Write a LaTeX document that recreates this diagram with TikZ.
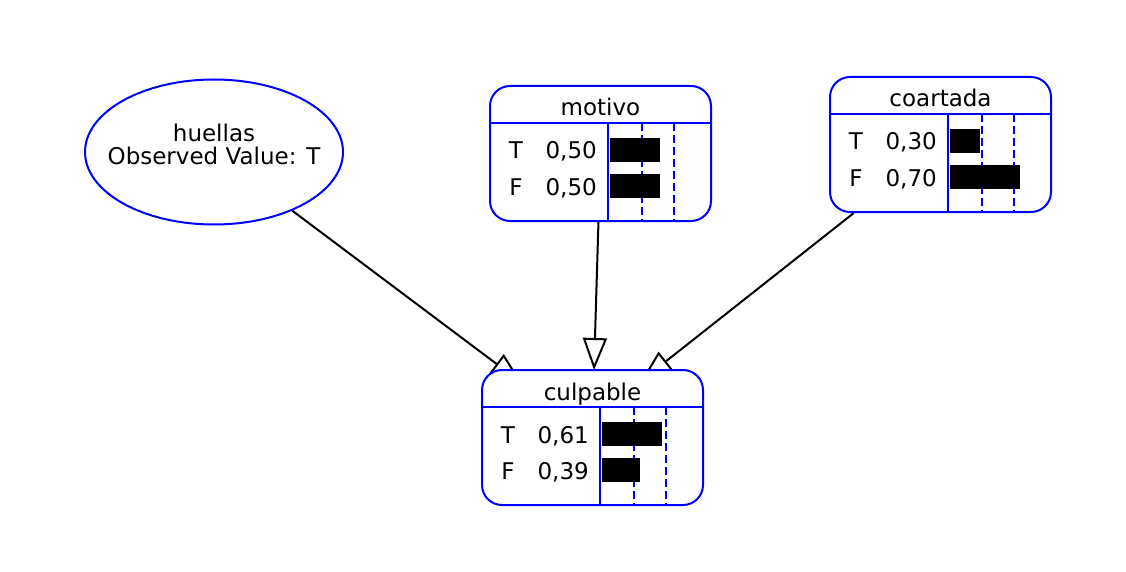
\documentclass[tikz,border=0pt]{standalone}
\usepackage{fontspec}
\setmainfont{DejaVu Sans}
\usetikzlibrary{arrows.meta,backgrounds,shapes.geometric}
\definecolor{bnblue}{RGB}{0,0,255}
\tikzset{
  cpt/.style={draw=bnblue, line width=2pt, fill=white, rounded corners=20pt,
    minimum width=221pt, minimum height=135pt, inner sep=0pt},
  evidence/.style={draw=bnblue, line width=2pt, fill=white, ellipse,
    minimum width=258pt, minimum height=145pt, inner sep=0pt},
  rule/.style={draw=bnblue, line width=2pt},
  guide/.style={draw=bnblue, line width=2pt, dash pattern=on 8pt off 4pt},
  bar/.style={fill=black},
  lbl/.style={inner sep=0pt, anchor=base, font=\fontsize{23}{26}\selectfont},
  link/.style={draw=black, line width=2pt,
    -{Triangle[open, length=32pt 0, width=24pt 0]}}
}
% #1 name, #2 left, #3 top, #4 title, #5/#6 text and bar length of T, #7/#8 of F
\newcommand\cptbox[8]{%
  \node[cpt] (#1) at ({#2+110.5},{#3+67.5}) {};
  \draw[guide] ({#2+152},{#3+37}) -- ({#2+152},{#3+135});
  \draw[guide] ({#2+184},{#3+37}) -- ({#2+184},{#3+135});
  \draw[rule] (#2,{#3+37}) -- ({#2+221},{#3+37});
  \draw[rule] ({#2+118},{#3+37}) -- ({#2+118},{#3+135});
  \fill[bar] ({#2+120},{#3+52}) rectangle +(#6,24);
  \fill[bar] ({#2+120},{#3+88}) rectangle +(#8,24);
  \node[lbl] (#1-title) at ({#2+110.5},{#3+30}) {#4};
  \node[lbl] (#1-t) at ({#2+26},{#3+73}) {T};
  \node[lbl, anchor=base east] (#1-tv) at ({#2+107},{#3+73}) {#5};
  \node[lbl] (#1-f) at ({#2+26},{#3+109}) {F};
  \node[lbl, anchor=base east] (#1-fv) at ({#2+107},{#3+109}) {#7};
}
\begin{document}
\begin{tikzpicture}[x=1pt, y=-1pt]
  \useasboundingbox (0,0) rectangle (1126,572);

  \node[evidence] (huellas) at (214,152) {};
  \node[lbl] (huellas-name) at (214,141.5) {huellas};
  \node[lbl] (huellas-obs) at (214,165) {Observed Value: T};
  \cptbox{motivo}{490}{86}{motivo}{0,50}{50}{0,50}{50}
  \cptbox{coartada}{830}{77}{coartada}{0,30}{30}{0,70}{70}
  \cptbox{culpable}{482}{370}{culpable}{0,61}{60}{0,39}{38}

  \coordinate (tipH) at (522,383);
  \coordinate (tipM) at (594,370);
  \coordinate (tipC) at (641,381);

  \begin{pgfonlayer}{background}
    \draw[link] (huellas) -- (tipH);
    \draw[link] (motivo) -- (tipM);
    \draw[link] (coartada) -- (tipC);
  \end{pgfonlayer}
\end{tikzpicture}
\end{document}
